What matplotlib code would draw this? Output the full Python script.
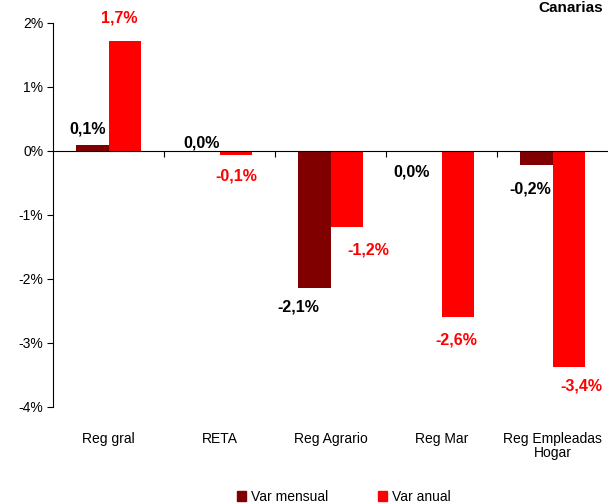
import matplotlib
matplotlib.use("Agg")
from matplotlib import pyplot as plt
from matplotlib.patches import Patch
import matplotlib.transforms as mtransforms
import numpy as np

categories = ["Reg gral", "RETA", "Reg Agrario", "Reg Mar", "Reg Empleadas\nHogar"]
varMensual = [0.09, 0.0, -2.14, 0.0, -0.22]
varAnual = [1.72, -0.06, -1.19, -2.59, -3.38]
labelsMensual = ["0,1%", "0,0%", "-2,1%", "0,0%", "-0,2%"]
labelsAnual = ["1,7%", "-0,1%", "-1,2%", "-2,6%", "-3,4%"]

DARK = "#800000"
RED = "#FF0000"
BARWIDTH = 0.29

plt.rcParams["font.family"] = ["Liberation Sans", "DejaVu Sans"]

fig = plt.figure(figsize=(6.08, 5.03), dpi=100)
ax = fig.add_axes([0.0872, 0.1909, 0.9128, 0.7634])

x = np.arange(len(categories))
ax.bar(x - BARWIDTH / 2, varMensual, width=BARWIDTH, color=DARK)
ax.bar(x + BARWIDTH / 2, varAnual, width=BARWIDTH, color=RED)

ax.set_xlim(-0.5, len(categories) - 0.5)
ax.set_ylim(-4, 2)
ax.set_yticks([-4, -3, -2, -1, 0, 1, 2])
ax.set_yticklabels(["-4%", "-3%", "-2%", "-1%", "0%", "1%", "2%"], fontsize=10)
ax.tick_params(axis="y", direction="out", length=4, width=0.8, pad=3)

for s in ["top", "right"]:
    ax.spines[s].set_visible(False)
ax.spines["bottom"].set_position(("data", 0))
ax.spines["left"].set_linewidth(0.8)
ax.spines["bottom"].set_linewidth(0.8)

# boundary ticks on the zero line, labels at the bottom
ax.set_xticks(np.arange(0.5, len(categories) - 0.5, 1))
ax.set_xticklabels([])
ax.tick_params(axis="x", direction="out", length=4, width=0.8)
trans = mtransforms.blended_transform_factory(ax.transData, ax.transAxes)
for i, c in enumerate(categories):
    ax.text(i, -0.066, c, transform=trans, ha="center", va="top", fontsize=10,
            linespacing=0.95)

# value labels (offsets in points)
mensOff = [(-3.6, 12), (-1.5, 5.8), (-11.5, -13.7), (-10, -15), (-4.3, -17)]
anuOff = [(-3.6, 16.5), (0.7, -15), (15.8, -16.5), (-0.7, -16.5), (9.4, -13.7)]
for i in range(len(categories)):
    dx, dy = mensOff[i]
    ax.annotate(labelsMensual[i], (x[i] - BARWIDTH / 2, varMensual[i]), xytext=(dx, dy),
                textcoords="offset points", ha="center", va="center",
                fontsize=11.5, fontweight="bold", color="black")
    dx, dy = anuOff[i]
    ax.annotate(labelsAnual[i], (x[i] + BARWIDTH / 2, varAnual[i]), xytext=(dx, dy),
                textcoords="offset points", ha="center", va="center",
                fontsize=11.5, fontweight="bold", color=RED)

fig.text(0.992, 0.985, "Canarias", ha="right", va="center", fontsize=11,
         fontweight="bold")

handles = [Patch(color=DARK, label="Var mensual"), Patch(color=RED, label="Var anual")]
fig.legend(handles=handles, loc="center", bbox_to_anchor=(0.565, 0.012), ncol=2,
           frameon=False, fontsize=10, handlelength=0.7, handleheight=0.7,
           handletextpad=0.3, columnspacing=3.6)

fig.savefig("out.png", dpi=100)
